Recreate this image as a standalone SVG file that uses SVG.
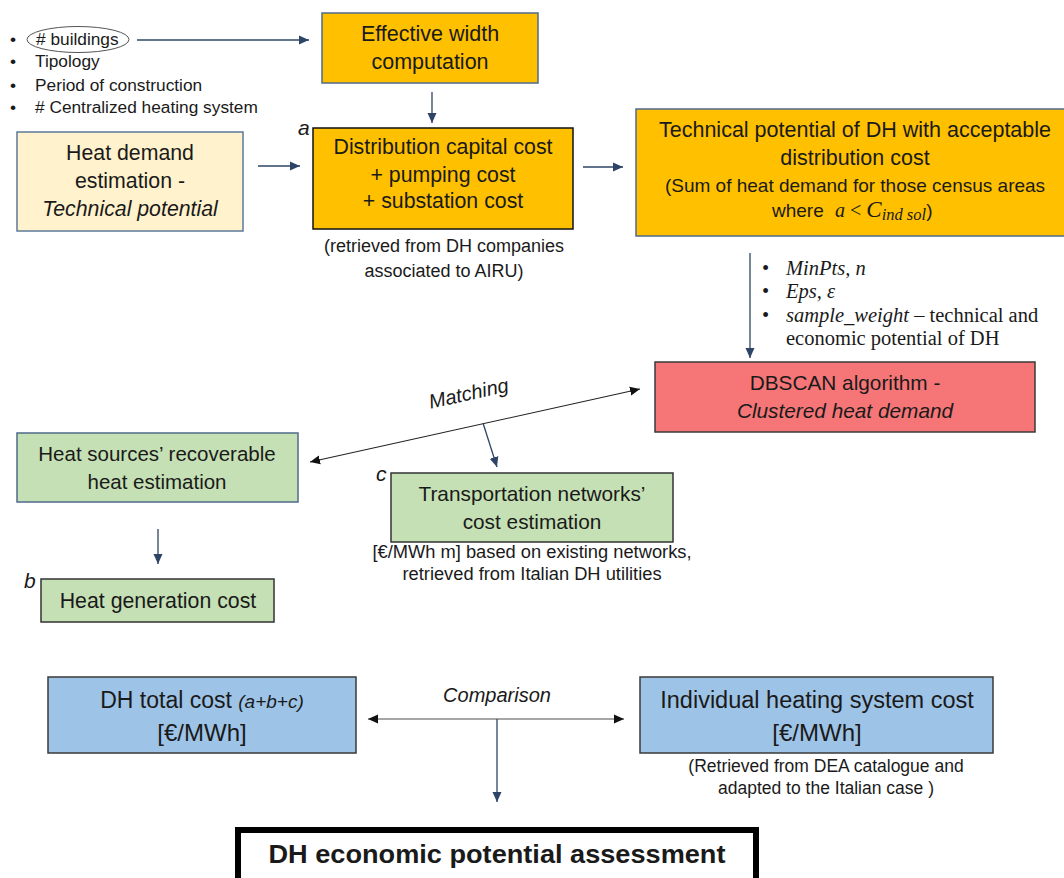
<svg xmlns="http://www.w3.org/2000/svg" width="1064" height="878" viewBox="0 0 1064 878">
<style>
.t{font-family:"Liberation Sans",Arial,sans-serif;fill:#1a1a1a}
.c{text-anchor:middle}
.i{font-style:italic}
.s{font-family:"Liberation Serif","Times New Roman",serif;fill:#1a1a1a}
.nav{stroke:#2e4466;stroke-width:1.3;fill:none}
</style>
<defs>
<marker id="an" markerUnits="userSpaceOnUse" markerWidth="10" markerHeight="10" refX="10" refY="5" orient="auto-start-reverse" viewBox="0 0 10 10"><path d="M0,0.5 L10,5 L0,9.5 z" fill="#2e4466"/></marker>
<marker id="ab" markerUnits="userSpaceOnUse" markerWidth="10" markerHeight="10" refX="10" refY="5" orient="auto-start-reverse" viewBox="0 0 10 10"><path d="M0,0.5 L10,5 L0,9.5 z" fill="#111"/></marker>
</defs>
<rect width="1064" height="878" fill="#fff"/>

<g id="inputs">
<g class="t" font-size="17.3">
<text x="10" y="45">•</text><text x="10" y="67">•</text><text x="10" y="91">•</text><text x="10" y="113">•</text>
<text x="36" y="45"># buildings</text>
<text x="35" y="67">Tipology</text>
<text x="35" y="91">Period of construction</text>
<text x="35" y="113"># Centralized heating system</text>
</g>
<ellipse cx="78" cy="39.5" rx="51" ry="13" fill="none" stroke="#555" stroke-width="1"/>
</g>

<g id="effective-width">
<rect x="322" y="13" width="216" height="70" fill="#FFC000" stroke="#4f6b8a" stroke-width="1.5"/>
<text class="t c" font-size="21.5" x="430" y="41">Effective width</text>
<text class="t c" font-size="21.5" x="430" y="69">computation</text>
</g>

<g id="heat-demand">
<rect x="17" y="132" width="226" height="99" fill="#FFF2CC" stroke="#5b7a99" stroke-width="1.5"/>
<text class="t c" font-size="21.3" x="130" y="160">Heat demand</text>
<text class="t c" font-size="21.3" x="130" y="188">estimation -</text>
<text class="t c i" font-size="21.3" x="130" y="216">Technical potential</text>
</g>

<g id="distribution-cost">
<text class="t i" font-size="21" x="298" y="135">a</text>
<rect x="313" y="128" width="260" height="101" fill="#FFC000" stroke="#111" stroke-width="1.5"/>
<text class="t c" font-size="21.3" x="443" y="154">Distribution capital cost</text>
<text class="t c" font-size="21.3" x="443" y="182">+ pumping cost</text>
<text class="t c" font-size="21.3" x="443" y="208">+ substation cost</text>
<text class="t c" font-size="18" x="444" y="252">(retrieved from DH companies</text>
<text class="t c" font-size="18" x="444" y="277">associated to AIRU)</text>
</g>

<g id="technical-potential">
<rect x="636" y="109" width="440" height="127" fill="#FFC000" stroke="#4f6b8a" stroke-width="1.5"/>
<text class="t c" font-size="21.5" x="855" y="137">Technical potential of DH with acceptable</text>
<text class="t c" font-size="21.5" x="855" y="165">distribution cost</text>
<text class="t c" font-size="19" x="855" y="192">(Sum of heat demand for those census areas</text>
<text class="t" font-size="19" x="772" y="217">where <tspan class="s i" font-size="20" dx="6">a</tspan><tspan class="s" font-size="20"> &lt; </tspan><tspan class="s i" font-size="23">C</tspan><tspan class="s i" font-size="16.5" dy="3">ind sol</tspan><tspan dy="-3">)</tspan></text>
</g>

<g id="dbscan-params" class="s" font-size="20.5">
<text x="762" y="275">•</text><text x="762" y="298">•</text><text x="762" y="322">•</text>
<text class="i" x="786" y="275">MinPts, n</text>
<text class="i" x="786" y="298">Eps, ε</text>
<text x="786" y="322"><tspan class="i">sample_weight</tspan> – technical and</text>
<text x="786" y="345">economic potential of DH</text>
</g>

<g id="dbscan">
<rect x="655" y="362" width="380" height="70" fill="#F67678" stroke="#3a3a3a" stroke-width="1.5"/>
<text class="t c" font-size="20.8" x="845" y="390">DBSCAN algorithm -</text>
<text class="t c i" font-size="20.8" x="845" y="418">Clustered heat demand</text>
</g>

<g id="heat-sources">
<rect x="17" y="433" width="281" height="69" fill="#C5E0B4" stroke="#4f6b8a" stroke-width="1.5"/>
<text class="t c" font-size="20.5" x="157" y="461">Heat sources’ recoverable</text>
<text class="t c" font-size="20.5" x="157" y="489">heat estimation</text>
</g>

<g id="heat-generation">
<text class="t i" font-size="21" x="24" y="588">b</text>
<rect x="41" y="579" width="233" height="43" fill="#C5E0B4" stroke="#333" stroke-width="1.5"/>
<text class="t c" font-size="21.3" x="158" y="608">Heat generation cost</text>
</g>

<g id="transportation">
<text class="t i" font-size="21" x="376" y="481">c</text>
<rect x="391" y="473" width="282" height="69" fill="#C5E0B4" stroke="#333" stroke-width="1.5"/>
<text class="t c" font-size="20.8" x="532" y="501">Transportation networks’</text>
<text class="t c" font-size="20.8" x="532" y="529">cost estimation</text>
<text class="t c" font-size="18.3" x="532" y="558">[€/MWh m] based on existing networks,</text>
<text class="t c" font-size="18.3" x="532" y="580">retrieved from Italian  DH utilities</text>
</g>

<g id="dh-total">
<rect x="48" y="677" width="308" height="76" fill="#9DC3E6" stroke="#3a3a3a" stroke-width="1.5"/>
<text class="t c" font-size="23" x="202" y="708">DH total cost <tspan class="i" font-size="19">(a+b+c)</tspan></text>
<text class="t c" font-size="24" x="202" y="741">[€/MWh]</text>
</g>

<g id="individual">
<rect x="640" y="677" width="353" height="76" fill="#9DC3E6" stroke="#3a3a3a" stroke-width="1.5"/>
<text class="t c" font-size="23.5" x="817" y="708">Individual heating system cost</text>
<text class="t c" font-size="24" x="817" y="741">[€/MWh]</text>
<text class="t c" font-size="17.5" x="826" y="772">(Retrieved from DEA catalogue and</text>
<text class="t c" font-size="17.5" x="826" y="794">adapted to the Italian case )</text>
</g>

<g id="assessment">
<rect x="238" y="830" width="518" height="60" fill="#fff" stroke="#000" stroke-width="6"/>
<text class="t c" font-size="26" font-weight="bold" x="497" y="863" textLength="457" lengthAdjust="spacingAndGlyphs">DH economic potential assessment</text>
</g>

<g id="connectors">
<line class="nav" x1="137" y1="40" x2="309" y2="40" marker-end="url(#an)"/>
<line class="nav" x1="432" y1="92" x2="432" y2="123" marker-end="url(#an)"/>
<line class="nav" x1="258" y1="166" x2="300" y2="166" marker-end="url(#an)"/>
<line class="nav" x1="583" y1="167" x2="623" y2="167" marker-end="url(#an)"/>
<line class="nav" x1="750" y1="253" x2="750" y2="358" marker-end="url(#an)"/>
<line x1="310" y1="462" x2="640" y2="389" stroke="#222" stroke-width="1.1" marker-start="url(#ab)" marker-end="url(#ab)"/>
<text class="t i" font-size="20" x="470" y="400" text-anchor="middle" transform="rotate(-12.5 470 400)">Matching</text>
<line class="nav" x1="483" y1="423" x2="497" y2="467" marker-end="url(#an)"/>
<line class="nav" x1="158" y1="529" x2="158" y2="564" marker-end="url(#an)"/>
<line x1="368" y1="719" x2="624" y2="719" stroke="#888" stroke-width="1.3" marker-start="url(#ab)" marker-end="url(#ab)"/>
<text class="t i c" font-size="20" x="497" y="702">Comparison</text>
<line class="nav" x1="497" y1="719" x2="497" y2="802" marker-end="url(#an)"/>
</g>
</svg>
